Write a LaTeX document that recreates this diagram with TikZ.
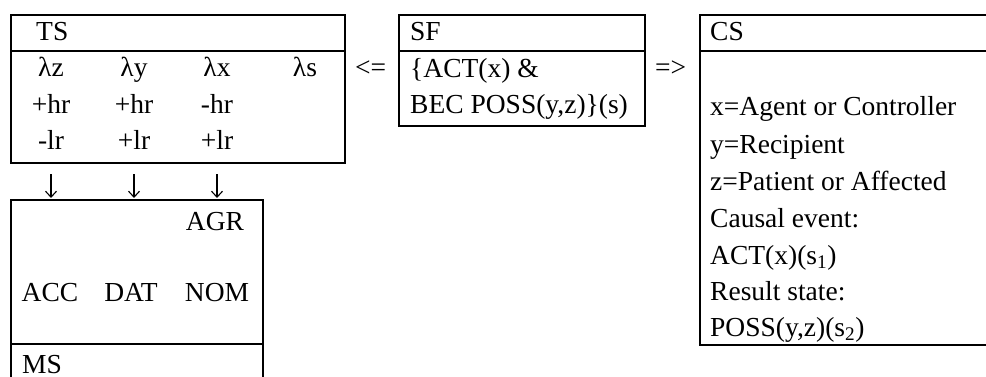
\documentclass[tikz,border=0pt]{standalone}
\usepackage{fontspec}
\setmainfont{Liberation Serif}
\usetikzlibrary{arrows.meta}

\begin{document}
\begin{tikzpicture}[x=1pt,y=-1pt,
  frame/.style={draw,line width=2.4pt,anchor=north west,inner sep=0pt},
  rule/.style={draw,line width=2.4pt},
  lbl/.style={anchor=base west,inner sep=0pt,font=\fontsize{27.5}{30}\selectfont},
  col/.style={anchor=base,inner sep=0pt,font=\fontsize{27.5}{30}\selectfont},
  arr/.style={-{Straight Barb[length=6pt,width=11pt]},line width=1.1pt}]
\clip (0,0) rectangle (986,377);
% boxes
\node[frame,minimum width=334pt,minimum height=148pt] (ts) at (10,14) {};
\node[frame,minimum width=246pt,minimum height=111pt] (sf) at (398,14) {};
\node[frame,minimum width=330pt,minimum height=330pt] (cs) at (699,14) {};
\node[frame,minimum width=252pt,minimum height=200pt] (ms) at (10,199) {};
\draw[rule] (10,51) -- (344,51);
\draw[rule] (398,51) -- (644,51);
\draw[rule] (699,51) -- (1029,51);
\draw[rule] (10,344) -- (262,344);
% TS
\node[lbl] (tsname) at (36,41) {TS};
\node[col] (lz) at (51,77) {λz};
\node[col] (ly) at (134,77) {λy};
\node[col] (lx) at (217,77) {λx};
\node[col] (ls) at (305,77) {λs};
\node[col] (hrz) at (51,114) {+hr};
\node[col] (hry) at (134,114) {+hr};
\node[col] (hrx) at (217,114) {-hr};
\node[col] (lrz) at (51,150) {-lr};
\node[col] (lry) at (134,150) {+lr};
\node[col] (lrx) at (217,150) {+lr};
% MS
\node[col] (agr) at (215,230) {AGR};
\node[col] (acc) at (50,301) {ACC};
\node[col] (dat) at (131,301) {DAT};
\node[col] (nom) at (217,301) {NOM};
\node[lbl] (msname) at (22,373) {MS};
\draw[arr] ([yshift=-10pt]ts.south -| lrz) -- ([yshift=1pt]ms.north -| lrz);
\draw[arr] ([yshift=-10pt]ts.south -| lry) -- ([yshift=1pt]ms.north -| lry);
\draw[arr] ([yshift=-10pt]ts.south -| lrx) -- ([yshift=1pt]ms.north -| lrx);
% SF
\node[lbl] (lt) at (355,77) {<=};
\node[lbl] (sfname) at (410,41) {SF};
\node[lbl] (act) at (410,78) {\{ACT(x) \&};
\node[lbl] (bec) at (410,114) {BEC POSS(y,z)\}(s)};
\node[lbl] (gt) at (655,77) {=>};
% CS
\node[lbl] (csname) at (710,41) {CS};
\node[lbl] (agent) at (710,116) {x=Agent or Controller};
\node[lbl] (recip) at (710,154) {y=Recipient};
\node[lbl] (pat) at (710,191) {z=Patient or Affected};
\node[lbl] (cause) at (710,228) {Causal event:};
\node[lbl] (acts) at (710,264) {ACT(x)(s\textsubscript{1})};
\node[lbl] (res) at (710,300) {Result state:};
\node[lbl] (poss) at (710,336) {POSS(y,z)(s\textsubscript{2})};
\end{tikzpicture}
\end{document}
